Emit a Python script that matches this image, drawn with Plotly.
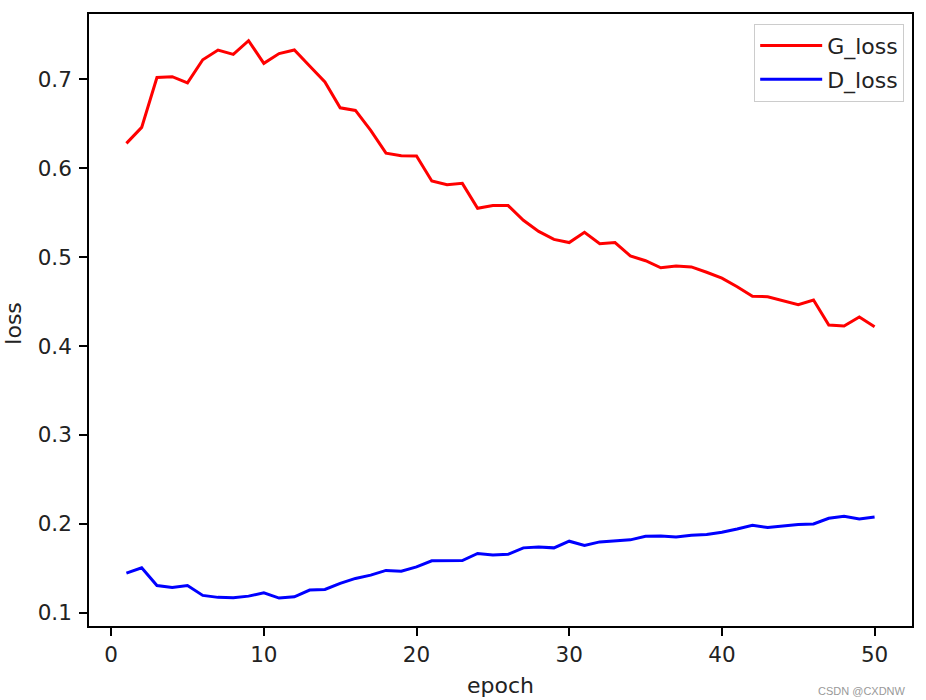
import plotly.graph_objects as go

epochs = list(range(1, 51))
g_loss = [0.628, 0.646, 0.702, 0.703, 0.696, 0.722, 0.733, 0.728, 0.7435, 0.718,
          0.729, 0.733, 0.715, 0.697, 0.668, 0.665, 0.6425, 0.617, 0.614, 0.6137,
          0.5856, 0.5815, 0.583, 0.555, 0.558, 0.558, 0.5415, 0.529, 0.520, 0.5164,
          0.528, 0.515, 0.5164, 0.5015, 0.496, 0.488, 0.490, 0.489, 0.483, 0.4764,
          0.4667, 0.456, 0.4555, 0.451, 0.4465, 0.4517, 0.4237, 0.4226, 0.4327, 0.4218]
d_loss = [0.1446, 0.1505, 0.1307, 0.1285, 0.1307, 0.1195, 0.1173, 0.1168, 0.1187, 0.1224,
          0.1165, 0.118, 0.1255, 0.1262, 0.133, 0.1386, 0.1423, 0.1476, 0.1468, 0.1516,
          0.1584, 0.1584, 0.1587, 0.1667, 0.1650, 0.1658, 0.173, 0.174, 0.173, 0.1805,
          0.1756, 0.1797, 0.1805, 0.182, 0.186, 0.1864, 0.1853, 0.1872, 0.188, 0.1906,
          0.1943, 0.1984, 0.1958, 0.1976, 0.1992, 0.1999, 0.2063, 0.2085, 0.2055, 0.2077]
x_ticks = [0, 10, 20, 30, 40, 50]
y_ticks = [0.1, 0.2, 0.3, 0.4, 0.5, 0.6, 0.7]

FONT = "DejaVu Sans"
TXT = "#222"
fig = go.Figure()
fig.add_trace(go.Scatter(x=epochs, y=g_loss, mode="lines", name="G_loss",
                         legendgroup="g", line=dict(color="red", width=3)))
fig.add_trace(go.Scatter(x=epochs, y=d_loss, mode="lines", name="D_loss",
                         legendgroup="d", line=dict(color="blue", width=3)))

axis_common = dict(showline=True, linecolor="black", linewidth=1.6, mirror=True,
                   ticks="outside", ticklen=8, tickwidth=1.6, tickcolor="black",
                   showgrid=False, zeroline=False,
                   tickfont=dict(family=FONT, size=21.5, color=TXT))
fig.update_xaxes(range=[-1.45, 52.45], tickvals=x_ticks, **axis_common)
fig.update_yaxes(range=[0.0851, 0.7735], tickvals=y_ticks, ticklabelstandoff=3,
                 ticktext=[f"{v:.1f}" for v in y_ticks], **axis_common)

fig.update_layout(
    width=926, height=700,
    margin=dict(l=89, r=12, t=13, b=74),
    plot_bgcolor="white", paper_bgcolor="white",
    font=dict(family=FONT, size=21.5, color=TXT),
    legend=dict(x=0.9905, xanchor="right", y=0.984, yanchor="top",
                bgcolor="rgba(255,255,255,0.8)", bordercolor="#cccccc", borderwidth=1,
                itemwidth=62,
                font=dict(family=FONT, size=22, color=TXT), tracegroupgap=2),
    annotations=[
        dict(text="epoch", x=0.5, y=0, xref="paper", yref="paper", showarrow=False,
             yanchor="middle", yshift=-59, font=dict(family=FONT, size=22, color=TXT)),
        dict(text="loss", x=0, y=0.494, xref="paper", yref="paper", showarrow=False,
             textangle=-90, xanchor="center", xshift=-75,
             font=dict(family=FONT, size=22, color=TXT)),
        dict(text="CSDN @CXDNW", x=1, y=0, xref="paper", yref="paper", showarrow=False,
             xanchor="right", yanchor="middle", xshift=-4, yshift=-65,
             font=dict(family="Liberation Sans", size=11, color="#999999")),
    ],
)
fig.write_html("out.html", config={"displayModeBar": False},
               post_script="document.body.style.margin='0';document.body.style.overflow='hidden';")
